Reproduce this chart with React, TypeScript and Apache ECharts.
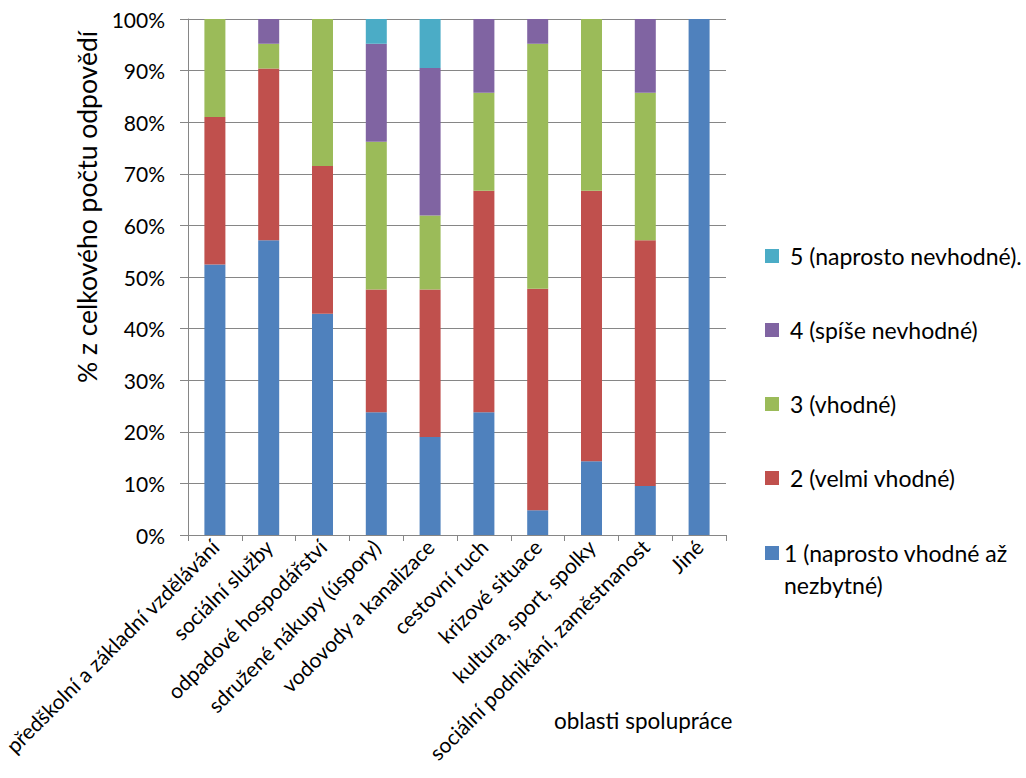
import React, { useEffect, useRef } from "react";
import * as echarts from "echarts";

const categories = [
  "předškolní a základní vzdělávání",
  "sociální služby",
  "odpadové hospodářství",
  "sdružené nákupy (úspory)",
  "vodovody a kanalizace",
  "cestovní ruch",
  "krizové situace",
  "kultura, sport, spolky",
  "sociální podnikání, zaměstnanost",
  "Jiné",
];

const seriesNames = [
  "1 (naprosto vhodné až nezbytné)",
  "2 (velmi vhodné)",
  "3 (vhodné)",
  "4 (spíše nevhodné)",
  "5 (naprosto nevhodné).",
];

const s1 = [52.4, 57.1, 42.9, 23.8, 19.0, 23.8, 4.8, 14.3, 9.5, 100];
const s2 = [28.6, 33.3, 28.6, 23.8, 28.6, 42.9, 42.9, 52.4, 47.6, 0];
const s3 = [19.0, 4.8, 28.5, 28.6, 14.3, 19.0, 47.5, 33.3, 28.6, 0];
const s4 = [0, 4.8, 0, 19.0, 28.6, 14.3, 4.8, 0, 14.3, 0];
const s5 = [0, 0, 0, 4.8, 9.5, 0, 0, 0, 0, 0];

const colors = ["#4F81BD", "#C0504D", "#9BBB59", "#8064A2", "#4BACC6"];

const FONT = "Lato";

export default function App() {
  const ref = useRef<HTMLDivElement>(null);
  useEffect(() => {
    const chart = echarts.init(ref.current!, null, { renderer: "svg" });
    const data = [s1, s2, s3, s4, s5];
    chart.setOption({
      animation: false,
      backgroundColor: "#fff",
      textStyle: { fontFamily: FONT, color: "#000" },
      grid: {
        left: 188,
        top: 19,
        width: 538,
        height: 516,
        containLabel: false,
        outerBoundsMode: "none",
      },
      xAxis: {
        type: "category",
        data: categories,
        axisLine: { show: true, lineStyle: { color: "#868686", width: 1 } },
        axisTick: { show: true, length: 6, lineStyle: { color: "#868686" } },
        axisLabel: { interval: 0, rotate: 45, fontSize: 21, color: "#000", margin: 8, fontFamily: FONT },
        splitLine: { show: false },
      },
      yAxis: {
        type: "value",
        min: 0,
        max: 100,
        interval: 10,
        name: "% z celkového počtu odpovědí",
        nameLocation: "middle",
        nameGap: 80,
        nameTextStyle: { fontSize: 26.5, color: "#000", fontFamily: FONT, padding: [0, 0, 0, 140] },
        axisLine: { show: true, lineStyle: { color: "#868686", width: 1 } },
        axisTick: { show: true, length: 8, lineStyle: { color: "#868686" } },
        axisLabel: { formatter: "{value}%", fontSize: 21, color: "#000", margin: 23, fontFamily: FONT },
        splitLine: { show: true, lineStyle: { color: "#868686", width: 1 } },
      },
      legend: [
        {
          orient: "vertical",
          left: 765,
          top: 240,
          padding: 0,
          itemWidth: 14,
          itemHeight: 14,
          itemGap: 42,
          icon: "rect",
          selectedMode: false,
          data: [seriesNames[4], seriesNames[3], seriesNames[2], seriesNames[1]],
          textStyle: { fontSize: 23, color: "#000", fontFamily: FONT, lineHeight: 32, padding: [0, 0, 0, 6] },
        },
        {
          orient: "vertical",
          left: 765,
          top: 505,
          padding: 0,
          itemWidth: 14,
          itemHeight: 14,
          icon: "rect",
          selectedMode: false,
          data: [seriesNames[0]],
          formatter: () => "\n1 (naprosto vhodné až\nnezbytné)",
          textStyle: { fontSize: 23, color: "#000", fontFamily: FONT, lineHeight: 32 },
        },
      ],
      graphic: [
        {
          type: "text",
          left: 554,
          top: 709,
          style: { text: "oblasti spolupráce", fontSize: 22.5, fill: "#000", fontFamily: FONT },
        },
      ],
      series: data.map((d, i) => ({
        name: seriesNames[i],
        type: "bar",
        stack: "total",
        barWidth: 21,
        data: d,
        itemStyle: { color: colors[i] },
      })),
    });
    return () => chart.dispose();
  }, []);
  return (
    <div
      ref={ref}
      style={{ position: "fixed", left: 0, top: 0, width: 1026, height: 778, background: "#fff" }}
    />
  );
}
